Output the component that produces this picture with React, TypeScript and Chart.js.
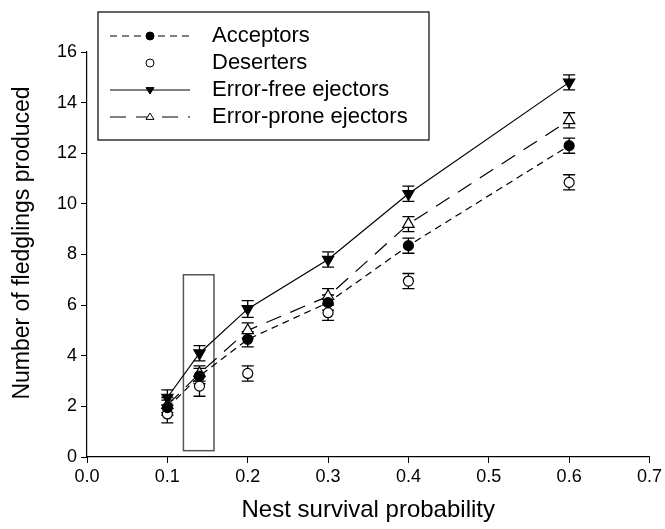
import { useEffect, useRef } from "react";
import { Chart, registerables } from "chart.js";

Chart.register(...registerables);

const survival = [0.1, 0.14, 0.2, 0.3, 0.4, 0.6];
const acceptors = [1.95, 3.2, 4.65, 6.1, 8.35, 12.3];
const acceptorsErr = [0.3, 0.3, 0.3, 0.3, 0.3, 0.3];
const deserters = [1.7, 2.8, 3.3, 5.7, 6.95, 10.85];
const desertersErr = [0.35, 0.4, 0.3, 0.3, 0.3, 0.3];
const errorFree = [2.35, 4.1, 5.85, 7.8, 10.4, 14.8];
const errorFreeErr = [0.3, 0.3, 0.33, 0.3, 0.3, 0.3];
const errorProne = [2.05, 3.3, 5.0, 6.35, 9.2, 13.3];
const errorProneErr = [0.3, 0.3, 0.3, 0.3, 0.3, 0.3];
const seriesLabels = ["Acceptors", "Deserters", "Error-free ejectors", "Error-prone ejectors"];
const xTitle = "Nest survival probability";
const yTitle = "Number of fledglings produced";
const highlightX = [0.12, 0.158];
const highlightY = [0.25, 7.2];

const FONT = "'Liberation Sans', Arial, sans-serif";

const errs = [acceptorsErr, desertersErr, errorFreeErr, errorProneErr];

const errorBarPlugin = {
  id: "errorBars",
  beforeDatasetsDraw(chart: any) {
    const { ctx, scales } = chart;
    const xs = scales.x, ys = scales.y;
    ctx.save();
    ctx.strokeStyle = "#555";
    ctx.lineWidth = 1.5;
    const rx0 = xs.getPixelForValue(highlightX[0]);
    const rx1 = xs.getPixelForValue(highlightX[1]);
    const ry0 = ys.getPixelForValue(highlightY[1]);
    const ry1 = ys.getPixelForValue(highlightY[0]);
    ctx.strokeRect(rx0, ry0, rx1 - rx0, ry1 - ry0);
    ctx.strokeStyle = "#000";
    ctx.lineWidth = 1.3;
    chart.data.datasets.forEach((ds: any, i: number) => {
      ds.data.forEach((p: any, j: number) => {
        const e = errs[i][j];
        const px = xs.getPixelForValue(p.x);
        const top = ys.getPixelForValue(p.y + e);
        const bot = ys.getPixelForValue(p.y - e);
        ctx.beginPath();
        ctx.moveTo(px, top);
        ctx.lineTo(px, bot);
        ctx.moveTo(px - 6, top);
        ctx.lineTo(px + 6, top);
        ctx.moveTo(px - 6, bot);
        ctx.lineTo(px + 6, bot);
        ctx.stroke();
      });
    });
    ctx.restore();
  },
};

function drawMarker(ctx: any, style: string, x: number, y: number, r: number, fill: string) {
  ctx.beginPath();
  if (style === "circle") {
    ctx.arc(x, y, r, 0, Math.PI * 2);
  } else if (style === "down") {
    ctx.moveTo(x - r, y - r * 0.6);
    ctx.lineTo(x + r, y - r * 0.6);
    ctx.lineTo(x, y + r);
    ctx.closePath();
  } else {
    ctx.moveTo(x - r, y + r * 0.6);
    ctx.lineTo(x + r, y + r * 0.6);
    ctx.lineTo(x, y - r);
    ctx.closePath();
  }
  ctx.fillStyle = fill;
  ctx.fill();
  ctx.strokeStyle = "#000";
  ctx.lineWidth = 1;
  ctx.stroke();
}

const legendPlugin = {
  id: "customLegend",
  afterDraw(chart: any) {
    const { ctx } = chart;
    ctx.save();
    ctx.fillStyle = "#000";
    ctx.font = `23px ${FONT}`;
    ctx.textAlign = "center";
    ctx.textBaseline = "middle";
    ctx.translate(23, 243);
    ctx.rotate(-Math.PI / 2);
    ctx.fillText(yTitle, 0, 0);
    ctx.setTransform(1, 0, 0, 1, 0, 0);

    const bx = 98, by = 12, bw = 331, bh = 128;
    ctx.fillStyle = "#fff";
    ctx.fillRect(bx, by, bw, bh);
    ctx.strokeStyle = "#000";
    ctx.lineWidth = 1.2;
    ctx.strokeRect(bx, by, bw, bh);
    const rows = [36, 63, 90, 117];
    const dashes = [[7, 5], [], [], [16, 10]];
    const showLine = [true, false, true, true];
    const styles = ["circle", "circle", "down", "up"];
    const fills = ["#000", "#fff", "#000", "#fff"];
    rows.forEach((y, i) => {
      if (showLine[i]) {
        ctx.beginPath();
        ctx.setLineDash(dashes[i]);
        ctx.strokeStyle = "#000";
        ctx.lineWidth = 1.2;
        ctx.moveTo(110, y);
        ctx.lineTo(190, y);
        ctx.stroke();
        ctx.setLineDash([]);
      }
      drawMarker(ctx, styles[i], 150, y, 4, fills[i]);
      ctx.fillStyle = "#000";
      ctx.font = `22px ${FONT}`;
      ctx.textAlign = "left";
      ctx.textBaseline = "middle";
      ctx.fillText(seriesLabels[i], 212, y);
    });
    ctx.restore();
  },
};

function toPts(ys: number[]) {
  return survival.map((x, i) => ({ x, y: ys[i] }));
}

export default function App() {
  const ref = useRef<HTMLCanvasElement>(null);
  useEffect(() => {
    document.body.style.margin = "0";
    const canvas = ref.current!;
    const chart = new Chart(canvas, {
      type: "line",
      data: {
        datasets: [
          {
            label: seriesLabels[0],
            data: toPts(acceptors),
            borderColor: "#000",
            borderWidth: 1.2,
            borderDash: [7, 5],
            pointStyle: "circle",
            pointRadius: 5,
            pointBackgroundColor: "#000",
            pointBorderColor: "#000",
            tension: 0,
          },
          {
            label: seriesLabels[1],
            data: toPts(deserters),
            showLine: false,
            borderColor: "#000",
            pointStyle: "circle",
            pointRadius: 5,
            pointBorderWidth: 1.2,
            pointBackgroundColor: "#fff",
            pointBorderColor: "#000",
          },
          {
            label: seriesLabels[2],
            data: toPts(errorFree),
            borderColor: "#000",
            borderWidth: 1.2,
            pointStyle: "triangle",
            rotation: 180,
            pointRadius: 6.5,
            pointBackgroundColor: "#000",
            pointBorderColor: "#000",
            tension: 0,
          },
          {
            label: seriesLabels[3],
            data: toPts(errorProne),
            borderColor: "#000",
            borderWidth: 1.2,
            borderDash: [16, 10],
            pointStyle: "triangle",
            pointRadius: 6.5,
            pointBorderWidth: 1.2,
            pointBackgroundColor: "#fff",
            pointBorderColor: "#000",
            tension: 0,
          },
        ],
      },
      options: {
        responsive: false,
        animation: false,
        layout: { padding: { left: 0, top: 52, right: 13, bottom: 0 } },
        plugins: { legend: { display: false }, tooltip: { enabled: false } },
        scales: {
          x: {
            type: "linear",
            min: 0,
            max: 0.7,
            afterFit: (s: any) => { s.height = 72; },
            ticks: {
              stepSize: 0.1,
              color: "#000",
              font: { family: FONT, size: 18 },
              padding: 3,
              callback: (v: any) => Number(v).toFixed(1),
            },
            grid: { display: true, drawOnChartArea: false, drawTicks: true, tickLength: 6, color: "#000" },
            border: { display: true, color: "#000", width: 1.2 },
            title: {
              display: true,
              text: xTitle,
              color: "#000",
              font: { family: FONT, size: 24 },
              padding: { top: 0, bottom: 4 },
            },
          },
          y: {
            min: 0,
            max: 16,
            afterFit: (s: any) => { s.width = 87; },
            ticks: {
              stepSize: 2,
              color: "#000",
              font: { family: FONT, size: 18 },
              padding: 4,
            },
            grid: { display: true, drawOnChartArea: false, drawTicks: true, tickLength: 6, color: "#000" },
            border: { display: true, color: "#000", width: 1.2 },
            title: { display: false },
          },
        },
      },
      plugins: [errorBarPlugin, legendPlugin],
    });
    return () => chart.destroy();
  }, []);
  return <canvas ref={ref} width={665} height={529} />;
}
